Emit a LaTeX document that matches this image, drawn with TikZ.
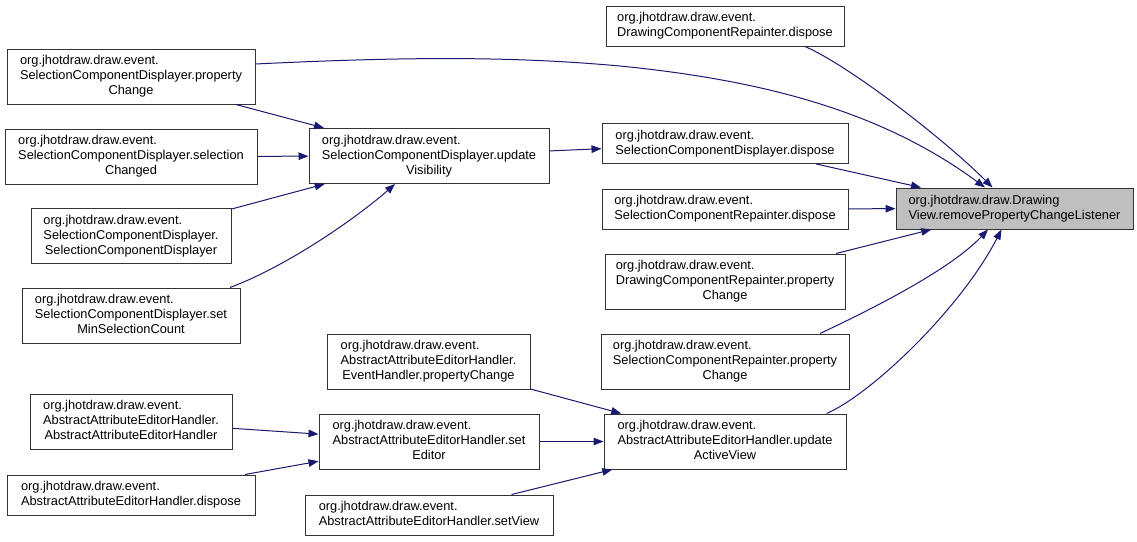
\documentclass[tikz,border=0pt]{standalone}
\usepackage{fontspec}
\setmainfont{Liberation Sans}
\usetikzlibrary{arrows.meta}
\definecolor{edgeblue}{HTML}{191970}
\definecolor{tgray}{HTML}{BFBFBF}
\newcommand{\lab}[2]{\begin{tabular}{@{}l@{}}#1\\\multicolumn{1}{@{}c@{}}{#2}\end{tabular}}
\begin{document}
\begin{tikzpicture}[x=1pt,y=-1pt,
  box/.style={draw=black!80, line width=1pt, fill=white, rectangle, inner sep=0pt,
    font=\fontsize{12.8}{15}\selectfont, text=black},
  edge/.style={draw=edgeblue, line width=1pt, -{Triangle[length=10pt,width=7.5pt]}, fill=none},
  arr/.style={edgeblue}]
\useasboundingbox (0,0) rectangle (1137,541);

% target
\node[box, fill=tgray, minimum width=237pt, minimum height=41pt] (T) at (1014.5,208.5)
  {\lab{org.jhotdraw.draw.Drawing}{View.removePropertyChangeListener}};

% middle column
\node[box, minimum width=238pt, minimum height=40pt] (DCRd) at (725,26)
  {\lab{org.jhotdraw.draw.event.}{DrawingComponentRepainter.dispose}};
\node[box, minimum width=246pt, minimum height=40pt] (SCDd) at (725,143.5)
  {\lab{org.jhotdraw.draw.event.}{SelectionComponentDisplayer.dispose}};
\node[box, minimum width=246pt, minimum height=40pt] (SCRd) at (725,209)
  {\lab{org.jhotdraw.draw.event.}{SelectionComponentRepainter.dispose}};
\node[box, minimum width=240pt, minimum height=55pt] (DCRpc) at (725,281.5)
  {\lab{org.jhotdraw.draw.event.\\DrawingComponentRepainter.property}{Change}};
\node[box, minimum width=248pt, minimum height=55pt] (SCRpc) at (725,361.5)
  {\lab{org.jhotdraw.draw.event.\\SelectionComponentRepainter.property}{Change}};
\node[box, minimum width=242pt, minimum height=55pt] (UAV) at (725,441.5)
  {\lab{org.jhotdraw.draw.event.\\AbstractAttributeEditorHandler.update}{ActiveView}};

% second column
\node[box, minimum width=240pt, minimum height=55pt] (UV) at (429,156)
  {\lab{org.jhotdraw.draw.event.\\SelectionComponentDisplayer.update}{Visibility}};
\node[box, minimum width=203pt, minimum height=55pt] (EHpc) at (428.5,361.5)
  {\lab{org.jhotdraw.draw.event.\\AbstractAttributeEditorHandler.}{EventHandler.propertyChange}};
\node[box, minimum width=220pt, minimum height=55pt] (SE) at (429,441.5)
  {\lab{org.jhotdraw.draw.event.\\AbstractAttributeEditorHandler.set}{Editor}};
\node[box, minimum width=248pt, minimum height=40pt] (SV) at (429,515)
  {\lab{org.jhotdraw.draw.event.}{AbstractAttributeEditorHandler.setView}};

% left column
\node[box, minimum width=248pt, minimum height=55pt] (SCDpc) at (131,76.5)
  {\lab{org.jhotdraw.draw.event.\\SelectionComponentDisplayer.property}{Change}};
\node[box, minimum width=252pt, minimum height=55pt] (SCDsc) at (131,156.5)
  {\lab{org.jhotdraw.draw.event.\\SelectionComponentDisplayer.selection}{Changed}};
\node[box, minimum width=200pt, minimum height=55pt] (SCDscd) at (131,236)
  {\lab{org.jhotdraw.draw.event.\\SelectionComponentDisplayer.}{SelectionComponentDisplayer}};
\node[box, minimum width=218pt, minimum height=55pt] (SCDmin) at (131,315.5)
  {\lab{org.jhotdraw.draw.event.\\SelectionComponentDisplayer.set}{MinSelectionCount}};
\node[box, minimum width=202pt, minimum height=55pt] (AAEH) at (131,421.5)
  {\lab{org.jhotdraw.draw.event.\\AbstractAttributeEditorHandler.}{AbstractAttributeEditorHandler}};
\node[box, minimum width=248pt, minimum height=40pt] (AAEHd) at (131,495)
  {\lab{org.jhotdraw.draw.event.}{AbstractAttributeEditorHandler.dispose}};

% edges into target
\draw[edge] ([xshift=80pt]DCRd.south) .. controls (850,66) and (945,140) .. ([xshift=-22pt]T.north);
\draw[edge] ([yshift=12.5pt]SCDpc.east) .. controls (420,56) and (520,57) .. (620,66)
   .. controls (760,80) and (880,110) .. ([xshift=-29.5pt]T.north);
\draw[edge] (SCDd) -- (T);
\draw[edge] (SCRd) -- (T);
\draw[edge] (DCRpc) -- (T);
\draw[edge] ([xshift=95pt]SCRpc.north) .. controls (870,310) and (950,270) .. ([xshift=-26.5pt]T.south);
\draw[edge] ([xshift=101.5pt]UAV.north) .. controls (870,395) and (960,310) .. ([xshift=-13pt]T.south);

% updateVisibility group
\draw[edge] (SCDpc) -- (UV);
\draw[edge] (SCDsc) -- (UV);
\draw[edge] (SCDscd) -- (UV);
\draw[edge] ([xshift=99pt]SCDmin.north) .. controls (290,265) and (360,215) .. ([xshift=-34pt]UV.south);
\draw[edge] (UV) -- (SCDd);

% updateActiveView group
\draw[edge] (EHpc) -- (UAV);
\draw[edge] (SE) -- (UAV);
\draw[edge] (SV) -- (UAV);
\draw[edge] (AAEH) -- (SE);
\draw[edge] (AAEHd) -- (SE);
\end{tikzpicture}
\end{document}
